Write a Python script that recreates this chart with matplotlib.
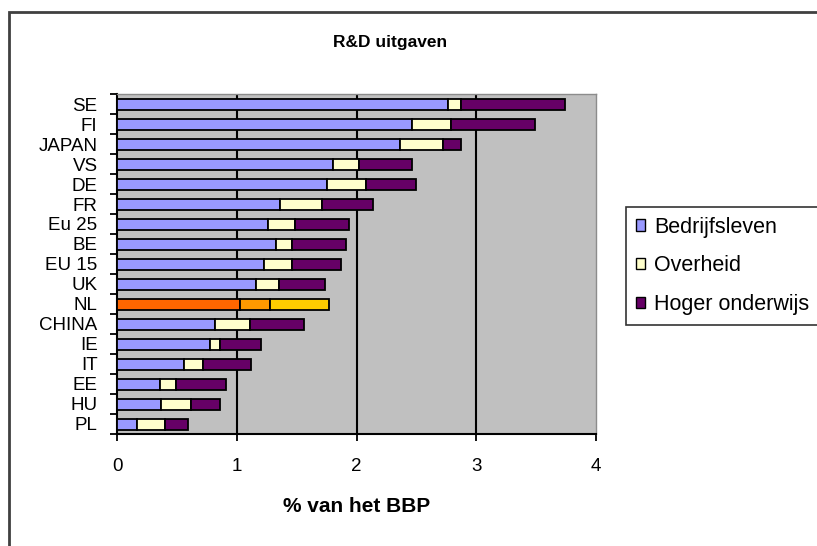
import numpy as np
import matplotlib
matplotlib.use('Agg')
import matplotlib.pyplot as plt
from matplotlib.patches import Rectangle, Patch

# R&D spending per country, % of GDP, split by sector
countries = ['SE','FI','JAPAN','VS','DE','FR','Eu 25','BE','EU 15','UK','NL','CHINA','IE','IT','EE','HU','PL']
bedrijfsleven = [2.76,2.46,2.36,1.80,1.75,1.36,1.26,1.33,1.23,1.16,1.03,0.82,0.78,0.56,0.36,0.37,0.17]
overheid      = [0.11,0.33,0.36,0.22,0.33,0.35,0.23,0.13,0.23,0.19,0.25,0.29,0.08,0.16,0.13,0.25,0.23]
hoger_ondw    = [0.87,0.70,0.15,0.44,0.42,0.43,0.45,0.45,0.41,0.39,0.49,0.45,0.34,0.40,0.42,0.24,0.19]
series_names = ['Bedrijfsleven','Overheid','Hoger onderwijs']
xticks = [0,1,2,3,4]

col_base = ['#9999ff','#ffffcc','#660066']
col_nl = ['#ff6600','#ff9900','#ffcc00']

plt.rcParams['font.family'] = ['Liberation Sans','DejaVu Sans']

fig = plt.figure(figsize=(8.17,5.46), dpi=100)
ax = fig.add_axes([117/817, 112/546, 479/817, 340/546])
ax.set_facecolor('#c0c0c0')

y = np.arange(len(countries))
left = np.zeros(len(countries))
for vals, c, cnl in zip([bedrijfsleven, overheid, hoger_ondw], col_base, col_nl):
	colors = [cnl if name == 'NL' else c for name in countries]
	ax.barh(y, vals, left=left, height=0.55, color=colors, edgecolor='k', linewidth=1.3, zorder=3)
	left += np.array(vals)

ax.set_xlim(0,4)
ax.set_ylim(len(countries)-0.5, -0.5)

# vertical gridlines at the major ticks
for xv in xticks[1:-1]:
	ax.axvline(xv, color='k', linewidth=1.5, zorder=2)

ax.set_xticks(xticks)
ax.set_xticklabels([str(v) for v in xticks], fontsize=13.5)
ax.tick_params(axis='x', direction='out', length=5, width=1.3, pad=12)

ax.set_yticks(y)
ax.set_yticklabels(countries, fontsize=13.5)
ax.set_yticks(np.arange(len(countries)+1)-0.5, minor=True)
ax.tick_params(axis='y', which='major', length=0, pad=14)
ax.tick_params(axis='y', which='minor', direction='out', length=5, width=1.3)

for side in ['left','bottom']:
	ax.spines[side].set_linewidth(1.5)
	ax.spines[side].set_color('k')
for side in ['top','right']:
	ax.spines[side].set_linewidth(1.0)
	ax.spines[side].set_color('#8c8c8c')

ax.set_xlabel('% van het BBP', fontsize=15, fontweight='bold', labelpad=16)
fig.text(390/817, 1-42/546, 'R&D uitgaven', fontsize=12.5, fontweight='bold', ha='center', va='center')

handles = [Patch(facecolor=c, edgecolor='k', linewidth=1.0) for c in col_base]
leg = ax.legend(handles, series_names, loc='upper left', bbox_to_anchor=(626/817, 1-207/546),
	bbox_transform=fig.transFigure, fontsize=15.5, frameon=True, fancybox=False,
	handlelength=0.45, handleheight=0.45, handletextpad=0.4, labelspacing=0.82,
	borderpad=0.45, borderaxespad=0)
leg.get_frame().set_edgecolor('k')
leg.get_frame().set_linewidth(1.2)

# chart area border
fig.patches.append(Rectangle((9/817, -0.1), 1.2, 1.1-12/546, fill=False, edgecolor='#404040',
	linewidth=2, transform=fig.transFigure, figure=fig))

plt.savefig('out.png', dpi=100)
